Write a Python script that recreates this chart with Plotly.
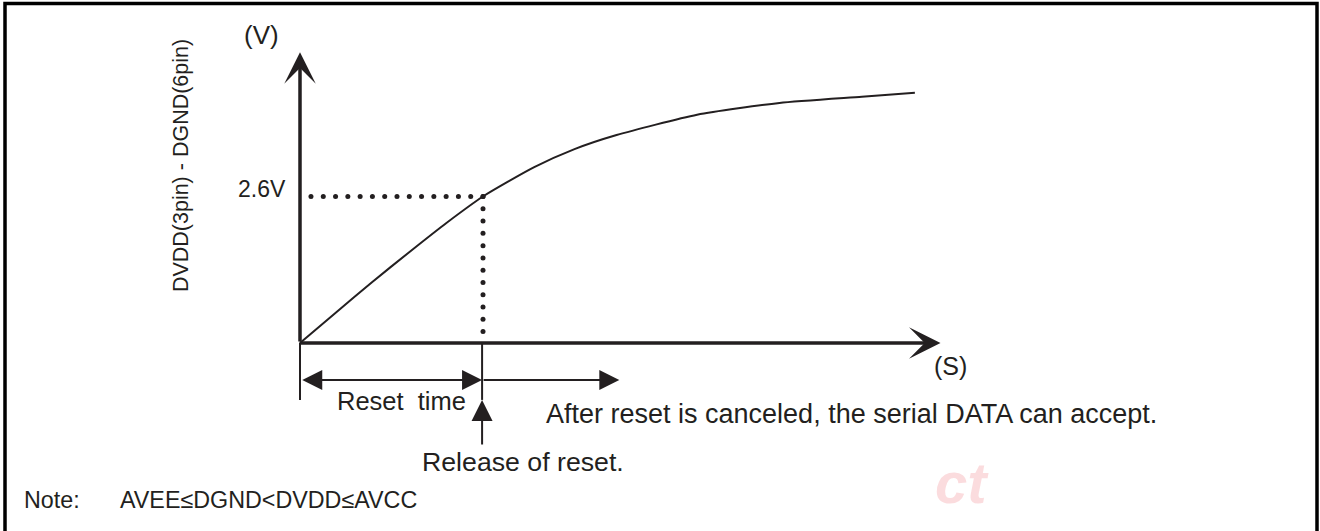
import numpy as np
import plotly.graph_objects as go

# ---------------- data ----------------
time_units = [0.0, 0.2, 0.39, 0.6, 0.8, 1.0, 1.28, 1.5, 1.73, 2.17, 2.62, 3.07, 3.36]
voltage_v = [0.0, 0.55, 1.07, 1.62, 2.13, 2.6, 3.12, 3.44, 3.69, 4.05, 4.26, 4.37, 4.44]
threshold_v = 2.6
reset_t = 1.0
y_axis_top = 5.16
x_axis_end = 3.50
after_arrow_end = 1.745
y_label = "DVDD(3pin) - DGND(6pin)"
threshold_label = "2.6V"
note_text = "AVEE\u2264DGND<DVDD\u2264AVCC"

INK = "#231f20"
FONT = "Liberation Sans, Arial, sans-serif"

fig = go.Figure()

# curve
fig.add_trace(go.Scatter(x=time_units, y=voltage_v, mode="lines",
                         line=dict(color=INK, width=2, shape="spline", smoothing=0.6),
                         hoverinfo="skip"))

# dotted guides (derived from threshold / reset time)
h_dots_t = np.linspace(0.06, reset_t, 15)
v_dots_v = threshold_v - np.arange(12) * 0.218
fig.add_trace(go.Scatter(x=h_dots_t, y=[threshold_v] * len(h_dots_t), mode="markers",
                         marker=dict(color=INK, size=5), hoverinfo="skip"))
fig.add_trace(go.Scatter(x=[reset_t] * len(v_dots_v), y=v_dots_v, mode="markers",
                         marker=dict(color=INK, size=5), hoverinfo="skip"))

# ticks under axis
fig.add_trace(go.Scatter(x=[0, 0], y=[0, -1.01], mode="lines",
                         line=dict(color=INK, width=2), hoverinfo="skip"))
fig.add_trace(go.Scatter(x=[reset_t - 0.005] * 2, y=[0, -1.01], mode="lines",
                         line=dict(color=INK, width=2), hoverinfo="skip"))

ann = []
def arrow(x, y, ax, ay, head, width, size, side="end"):
    ann.append(dict(x=x, y=y, ax=ax, ay=ay, xref="x", yref="y", axref="x", ayref="y",
                    showarrow=True, arrowhead=head, startarrowhead=head, arrowwidth=width,
                    arrowsize=size, startarrowsize=size, arrowside=side,
                    arrowcolor=INK, text="", standoff=0, startstandoff=0))

# axes
arrow(0, y_axis_top, 0, 0, 3, 3.5, 1.5)
arrow(x_axis_end, 0, -0.01, 0, 3, 3.5, 1.5)
# reset time double arrow
arrow(reset_t - 0.005, -0.657, 0.004, -0.657, 2, 2, 2, "end+start")
# after-reset arrow
arrow(after_arrow_end, -0.657, reset_t - 0.005, -0.657, 2, 2, 2)
# release arrow
arrow(reset_t - 0.005, -1.01, reset_t - 0.005, -1.83, 2, 2, 2.1)

def text(t, x, y, size, xanchor="center", angle=0):
    ann.append(dict(x=x, y=y, xref="x", yref="y", text=t, showarrow=False,
                    xanchor=xanchor, yanchor="middle", textangle=angle,
                    font=dict(family=FONT, size=size, color=INK)))

text("(V)", -0.208, 5.466, 26)
text(threshold_label, -0.065, 2.73, 23, xanchor="right")
text("(S)", 3.557, -0.408, 25)
text("Reset\u00a0 time", 0.552, -1.03, 25.5)
text("Release of reset.", 1.219, -2.11, 26.7)
text("After reset is canceled, the serial DATA can accept.", 3.011, -1.26, 27)
text(y_label, -0.650, 3.14, 21.5, angle=-90)

# note (paper coords)
ann.append(dict(x=22 / 1320, y=1 - 500 / 531, xref="paper", yref="paper", text="Note:",
                showarrow=False, xanchor="left", yanchor="middle",
                font=dict(family=FONT, size=23.3, color=INK)))
ann.append(dict(x=118 / 1320, y=1 - 500 / 531, xref="paper", yref="paper", text=note_text,
                showarrow=False, xanchor="left", yanchor="middle",
                font=dict(family=FONT, size=23.3, color=INK)))
# faint watermark
ann.append(dict(x=962 / 1320, y=1 - 482 / 531, xref="paper", yref="paper", text="<b><i>ct</i></b>",
                showarrow=False, xanchor="center", yanchor="middle",
                font=dict(family=FONT, size=58, color="rgba(232,40,50,0.16)")))

fig.update_layout(
    width=1320, height=531,
    margin=dict(l=0, r=0, t=0, b=0),
    paper_bgcolor="white", plot_bgcolor="white",
    showlegend=False,
    xaxis=dict(range=[-300 / 183, 1020 / 183], visible=False, fixedrange=True),
    yaxis=dict(range=[-188 / 56.35, 343 / 56.35], visible=False, fixedrange=True),
    annotations=ann,
    shapes=[dict(type="rect", xref="paper", yref="paper",
                 x0=5 / 1320, x1=1317 / 1320, y0=-0.2, y1=1 - 3.5 / 531,
                 line=dict(color="black", width=3.5), fillcolor="rgba(0,0,0,0)")],
)

fig.write_html("out.html", config={"displayModeBar": False},
               post_script="document.body.style.margin='0';")
